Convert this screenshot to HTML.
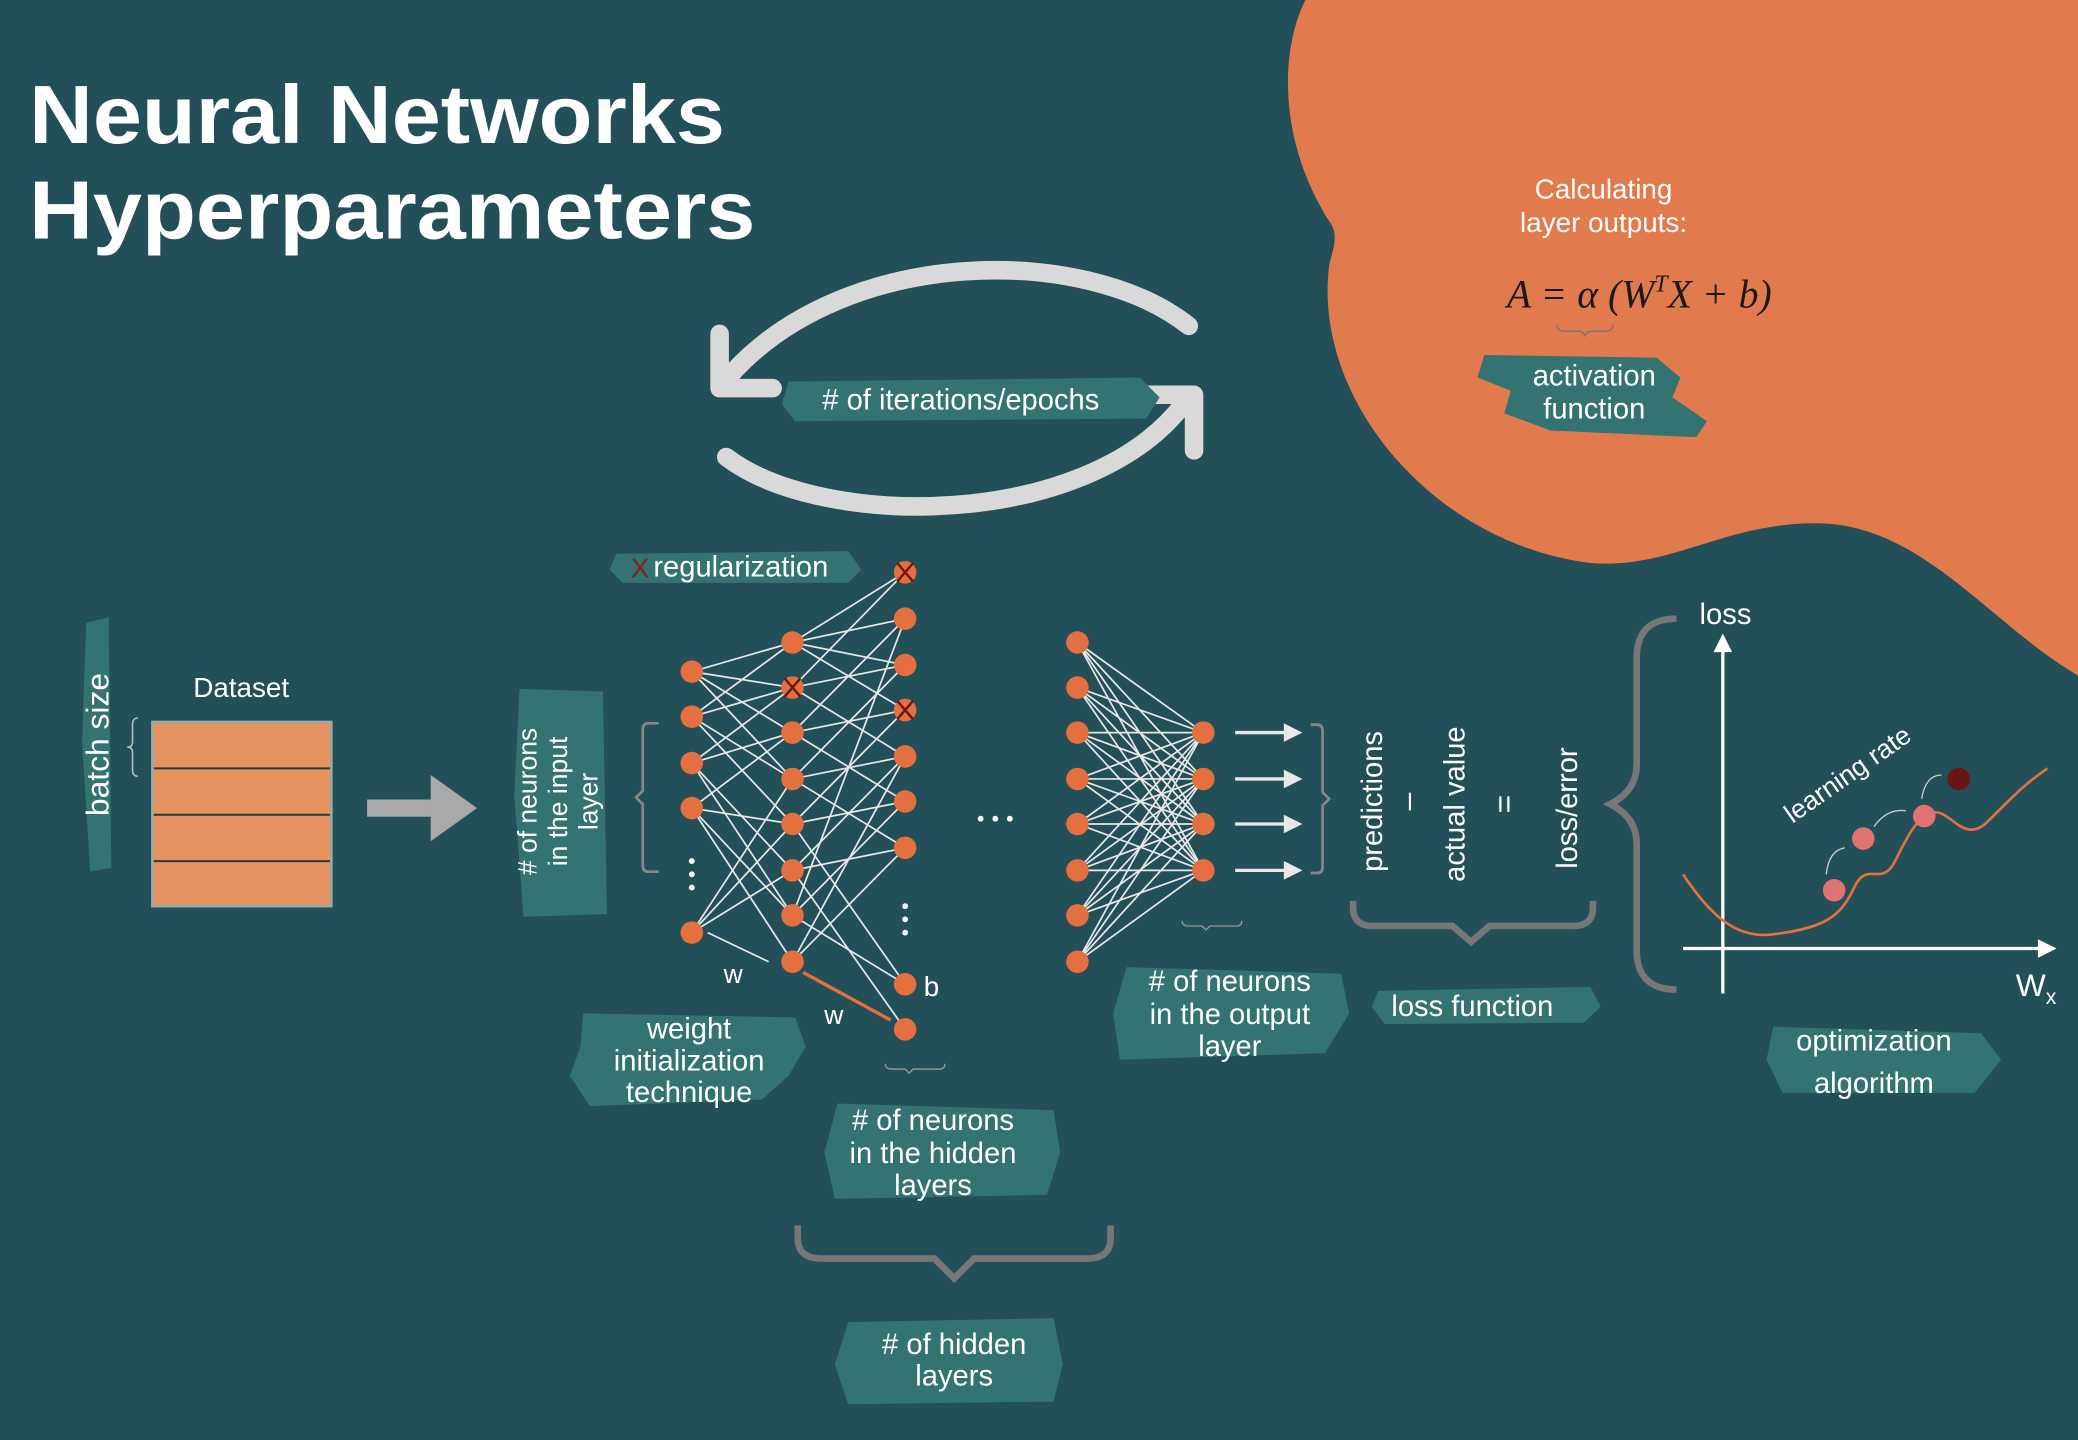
<!DOCTYPE html>
<html><head><meta charset="utf-8"><style>
html,body{margin:0;padding:0;background:#224f58;}
svg{display:block}
text{font-family:"Liberation Sans",sans-serif;fill:#fff}
</style></head><body>
<svg width="2078" height="1440" viewBox="0 0 1568 1087" preserveAspectRatio="none" xmlns="http://www.w3.org/2000/svg">
<rect width="1568" height="1087" fill="#224f58"/>
<path d="M985 0 C965 40 965 110 1005 170 C1010 180 1005 190 1003 200 C990 300 1080 410 1200 425 C1260 430 1300 395 1370 395 C1450 395 1500 470 1568 510 L1568 0 Z" fill="#e17b4e"/>
<text x="22" y="108" font-size="62" font-weight="bold" textLength="525" lengthAdjust="spacingAndGlyphs">Neural Networks</text>
<text x="22" y="180" font-size="62" font-weight="bold" textLength="548" lengthAdjust="spacingAndGlyphs">Hyperparameters</text>
<text x="1210" y="150" font-size="21" text-anchor="middle">Calculating</text>
<text x="1210" y="175" font-size="21" text-anchor="middle">layer outputs:</text>
<text x="1237" y="232" font-size="30" font-style="italic" text-anchor="middle" style="font-family:'Liberation Serif',serif;fill:#1a1a1a">A = α (W<tspan font-size="18" dy="-12">T</tspan><tspan dy="12">X + b)</tspan></text>
<path d="M1175 245 q0 5 6 5 h10 q4 0 5 4 q1 -4 5 -4 h10 q6 0 6 -5" fill="none" stroke="#777" stroke-width="1"/>
<path d="M1120 268 L1250 270 L1268 285 L1262 300 L1288 318 L1280 330 L1170 325 L1135 312 L1140 295 L1115 285 Z" fill="#337371"/>
<text x="1203" y="291" font-size="22" text-anchor="middle">activation</text>
<text x="1203" y="316" font-size="22" text-anchor="middle">function</text>
<g fill="none" stroke="#d9d9d9" stroke-width="14" stroke-linecap="round" stroke-linejoin="round">
<path d="M897 246 C820 185 640 185 552 282"/>
<path d="M543 252 L543 293 L583 293"/>
<path d="M548 345 C620 400 820 400 893 305"/>
<path d="M860 298 L901 298 L901 340"/>
</g>
<path d="M595 288 L860 285 L875 300 L865 316 L600 318 L590 305 Z" fill="#337371"/>
<text x="725" y="309" font-size="22" text-anchor="middle"># of iterations/epochs</text>
<path d="M465 418 L640 416 L650 430 L640 440 L470 440 L460 430 Z" fill="#337371"/>
<text x="476" y="436" font-size="21" style="fill:#8b1e1e">X</text>
<text x="493" y="435" font-size="22">regularization</text>
<path d="M65 470 L82 466 L84 655 L68 658 L62 560 Z" fill="#337371"/>
<text transform="translate(82,562) rotate(-90)" font-size="24" text-anchor="middle">batch size</text>
<path d="M104 542 q-4 0 -4 5 v13 q0 4 -4 4 q4 0 4 4 v13 q0 5 4 5" fill="none" stroke="#bbb" stroke-width="1.2"/>
<text x="182" y="526" font-size="21" text-anchor="middle">Dataset</text>
<rect x="115" y="545" width="135" height="139" fill="#e59461" stroke="#9aa" stroke-width="2"/>
<g stroke="#2a3b3b" stroke-width="1.5"><line x1="116" y1="580" x2="249" y2="580"/><line x1="116" y1="615" x2="249" y2="615"/><line x1="116" y1="650" x2="249" y2="650"/></g>
<line x1="277" y1="610" x2="335" y2="610" stroke="#a9a9a9" stroke-width="13"/>
<path d="M325 585 L360 610 L325 635 Z" fill="#a9a9a9"/>
<path d="M392 520 L455 522 L458 690 L395 692 L388 600 Z" fill="#337371"/>
<text transform="translate(405,605) rotate(-90)" font-size="20" text-anchor="middle"># of neurons</text>
<text transform="translate(428,605) rotate(-90)" font-size="20" text-anchor="middle">in the input</text>
<text transform="translate(451,605) rotate(-90)" font-size="20" text-anchor="middle">layer</text>
<path d="M497 546 h-8 q-4 0 -4 5 v46 l-5 5 l5 5 v46 q0 5 4 5 h8" fill="none" stroke="#888" stroke-width="2"/>
<g stroke="#e8e8e8" stroke-width="1.3">
<line x1="522" y1="507" x2="598" y2="485"/><line x1="522" y1="507" x2="598" y2="519"/><line x1="522" y1="507" x2="598" y2="553"/><line x1="522" y1="507" x2="598" y2="588"/>
<line x1="522" y1="541" x2="598" y2="485"/><line x1="522" y1="541" x2="598" y2="519"/><line x1="522" y1="541" x2="598" y2="588"/><line x1="522" y1="541" x2="598" y2="622"/>
<line x1="522" y1="576" x2="598" y2="519"/><line x1="522" y1="576" x2="598" y2="553"/><line x1="522" y1="576" x2="598" y2="657"/><line x1="522" y1="576" x2="598" y2="691"/>
<line x1="522" y1="610" x2="598" y2="553"/><line x1="522" y1="610" x2="598" y2="622"/><line x1="522" y1="610" x2="598" y2="691"/><line x1="522" y1="610" x2="598" y2="726"/>
<line x1="522" y1="704" x2="598" y2="622"/><line x1="522" y1="704" x2="598" y2="657"/><line x1="522" y1="704" x2="598" y2="588"/><line x1="534" y1="704" x2="580" y2="726"/>
<line x1="598" y1="485" x2="683" y2="432"/><line x1="598" y1="485" x2="683" y2="467"/><line x1="598" y1="485" x2="683" y2="502"/><line x1="598" y1="485" x2="683" y2="536"/>
<line x1="598" y1="519" x2="683" y2="432"/><line x1="598" y1="519" x2="683" y2="502"/><line x1="598" y1="519" x2="683" y2="571"/>
<line x1="598" y1="553" x2="683" y2="467"/><line x1="598" y1="553" x2="683" y2="536"/><line x1="598" y1="553" x2="683" y2="605"/>
<line x1="598" y1="588" x2="683" y2="502"/><line x1="598" y1="588" x2="683" y2="571"/><line x1="598" y1="588" x2="683" y2="640"/>
<line x1="598" y1="622" x2="683" y2="536"/><line x1="598" y1="622" x2="683" y2="605"/><line x1="598" y1="622" x2="683" y2="743"/>
<line x1="598" y1="657" x2="683" y2="571"/><line x1="598" y1="657" x2="683" y2="640"/><line x1="598" y1="657" x2="683" y2="777"/>
<line x1="598" y1="691" x2="683" y2="605"/><line x1="598" y1="691" x2="683" y2="743"/><line x1="598" y1="691" x2="683" y2="467"/>
<line x1="598" y1="726" x2="683" y2="640"/><line x1="598" y1="726" x2="683" y2="571"/>
</g>
<line x1="606" y1="734" x2="672" y2="770" stroke="#e5703f" stroke-width="2.5"/>
<g stroke="#e8e8e8" stroke-width="1.3">
<line x1="813" y1="485" x2="908" y2="553"/><line x1="813" y1="485" x2="908" y2="588"/><line x1="813" y1="485" x2="908" y2="622"/><line x1="813" y1="485" x2="908" y2="657"/>
<line x1="813" y1="519" x2="908" y2="553"/><line x1="813" y1="519" x2="908" y2="588"/><line x1="813" y1="519" x2="908" y2="622"/><line x1="813" y1="519" x2="908" y2="657"/>
<line x1="813" y1="553" x2="908" y2="553"/><line x1="813" y1="553" x2="908" y2="588"/><line x1="813" y1="553" x2="908" y2="622"/><line x1="813" y1="553" x2="908" y2="657"/>
<line x1="813" y1="588" x2="908" y2="553"/><line x1="813" y1="588" x2="908" y2="588"/><line x1="813" y1="588" x2="908" y2="622"/><line x1="813" y1="588" x2="908" y2="657"/>
<line x1="813" y1="622" x2="908" y2="553"/><line x1="813" y1="622" x2="908" y2="588"/><line x1="813" y1="622" x2="908" y2="622"/><line x1="813" y1="622" x2="908" y2="657"/>
<line x1="813" y1="657" x2="908" y2="553"/><line x1="813" y1="657" x2="908" y2="588"/><line x1="813" y1="657" x2="908" y2="622"/><line x1="813" y1="657" x2="908" y2="657"/>
<line x1="813" y1="691" x2="908" y2="553"/><line x1="813" y1="691" x2="908" y2="588"/><line x1="813" y1="691" x2="908" y2="622"/><line x1="813" y1="691" x2="908" y2="657"/>
<line x1="813" y1="726" x2="908" y2="553"/><line x1="813" y1="726" x2="908" y2="588"/><line x1="813" y1="726" x2="908" y2="622"/><line x1="813" y1="726" x2="908" y2="657"/>
</g>
<g fill="#e5703f">
<circle cx="522" cy="507" r="8.5"/><circle cx="522" cy="541" r="8.5"/><circle cx="522" cy="576" r="8.5"/><circle cx="522" cy="610" r="8.5"/><circle cx="522" cy="704" r="8.5"/>
<circle cx="598" cy="485" r="8.5"/><circle cx="598" cy="519" r="8.5"/><circle cx="598" cy="553" r="8.5"/><circle cx="598" cy="588" r="8.5"/><circle cx="598" cy="622" r="8.5"/><circle cx="598" cy="657" r="8.5"/><circle cx="598" cy="691" r="8.5"/><circle cx="598" cy="726" r="8.5"/>
<circle cx="683" cy="432" r="8.5"/><circle cx="683" cy="467" r="8.5"/><circle cx="683" cy="502" r="8.5"/><circle cx="683" cy="536" r="8.5"/><circle cx="683" cy="571" r="8.5"/><circle cx="683" cy="605" r="8.5"/><circle cx="683" cy="640" r="8.5"/><circle cx="683" cy="743" r="8.5"/><circle cx="683" cy="777" r="8.5"/>
<circle cx="813" cy="485" r="8.5"/><circle cx="813" cy="519" r="8.5"/><circle cx="813" cy="553" r="8.5"/><circle cx="813" cy="588" r="8.5"/><circle cx="813" cy="622" r="8.5"/><circle cx="813" cy="657" r="8.5"/><circle cx="813" cy="691" r="8.5"/><circle cx="813" cy="726" r="8.5"/>
<circle cx="908" cy="553" r="8.5"/><circle cx="908" cy="588" r="8.5"/><circle cx="908" cy="622" r="8.5"/><circle cx="908" cy="657" r="8.5"/>
</g>
<g stroke="#6b1515" stroke-width="1.8">
<line x1="592" y1="512" x2="604" y2="526"/><line x1="604" y1="512" x2="592" y2="526"/>
<line x1="677" y1="425" x2="689" y2="439"/><line x1="689" y1="425" x2="677" y2="439"/>
<line x1="677" y1="529" x2="689" y2="543"/><line x1="689" y1="529" x2="677" y2="543"/>
</g>
<g fill="#fff"><circle cx="522" cy="650" r="2.2"/><circle cx="522" cy="660" r="2.2"/><circle cx="522" cy="670" r="2.2"/>
<circle cx="683" cy="684" r="2.2"/><circle cx="683" cy="694" r="2.2"/><circle cx="683" cy="704" r="2.2"/>
<circle cx="740" cy="618" r="2.2"/><circle cx="751" cy="618" r="2.2"/><circle cx="762" cy="618" r="2.2"/></g>
<text x="546" y="742" font-size="20">w</text>
<text x="622" y="773" font-size="20">w</text>
<text x="697" y="752" font-size="21">b</text>
<g stroke="#e8e8e8" stroke-width="2.5" fill="#e8e8e8">
<line x1="932" y1="553" x2="972" y2="553"/><path d="M980 553 l-10 -5 v10 z"/>
<line x1="932" y1="588" x2="972" y2="588"/><path d="M980 588 l-10 -5 v10 z"/>
<line x1="932" y1="622" x2="972" y2="622"/><path d="M980 622 l-10 -5 v10 z"/>
<line x1="932" y1="657" x2="972" y2="657"/><path d="M980 657 l-10 -5 v10 z"/>
</g>
<path d="M989 547 h5 q4 0 4 5 v46 l5 5 l-5 5 v46 q0 5 -4 5 h-5" fill="none" stroke="#888" stroke-width="2"/>
<path d="M668 803 q0 4 5 4 h10 l3 3 l3 -3 h20 q4 0 4 -4" fill="none" stroke="#999" stroke-width="1"/>
<path d="M892 695 q0 4 5 4 h10 l3 3 l3 -3 h20 q4 0 4 -4" fill="none" stroke="#999" stroke-width="1"/>
<path d="M440 765 L600 768 L608 790 L595 812 L575 830 L445 835 L430 812 L438 790 Z" fill="#337371"/>
<text x="520" y="784" font-size="22" text-anchor="middle">weight</text>
<text x="520" y="808" font-size="22" text-anchor="middle">initialization</text>
<text x="520" y="832" font-size="22" text-anchor="middle">technique</text>
<path d="M632 833 L795 838 L800 870 L790 902 L630 905 L622 870 Z" fill="#337371"/>
<text x="704" y="853" font-size="22" text-anchor="middle"># of neurons</text>
<text x="704" y="878" font-size="22" text-anchor="middle">in the hidden</text>
<text x="704" y="902" font-size="22" text-anchor="middle">layers</text>
<path d="M850 730 L1012 735 L1018 765 L1000 795 L845 800 L840 765 Z" fill="#337371"/>
<text x="928" y="748" font-size="22" text-anchor="middle"># of neurons</text>
<text x="928" y="773" font-size="22" text-anchor="middle">in the output</text>
<text x="928" y="797" font-size="22" text-anchor="middle">layer</text>
<path d="M602 925 v10 q0 15 18 15 h85 l15 15 l15 -15 h85 q18 0 18 -15 v-10" fill="none" stroke="#777" stroke-width="5"/>
<path d="M640 998 L795 995 L802 1030 L795 1058 L640 1060 L630 1030 Z" fill="#337371"/>
<text x="720" y="1022" font-size="22" text-anchor="middle"># of hidden</text>
<text x="720" y="1046" font-size="22" text-anchor="middle">layers</text>
<text transform="translate(1043,605) rotate(-90)" font-size="22" text-anchor="middle">predictions</text>
<text transform="translate(1070,605) rotate(-90)" font-size="24" text-anchor="middle">–</text>
<text transform="translate(1105,607) rotate(-90)" font-size="22" text-anchor="middle">actual value</text>
<text transform="translate(1143,607) rotate(-90)" font-size="24" text-anchor="middle">=</text>
<text transform="translate(1190,610) rotate(-90)" font-size="22" text-anchor="middle">loss/error</text>
<path d="M1021 680 v5 q0 14 15 14 h60 l14 12 l14 -12 h63 q15 0 15 -14 v-5" fill="none" stroke="#777" stroke-width="5"/>
<path d="M1040 748 L1200 745 L1208 760 L1195 772 L1045 773 L1035 760 Z" fill="#337371"/>
<text x="1111" y="767" font-size="22" text-anchor="middle">loss function</text>
<path d="M1265 467 q-30 0 -30 30 v80 q0 20 -20 30 q20 10 20 30 v80 q0 30 30 30" fill="none" stroke="#777" stroke-width="5"/>
<g stroke="#fff" stroke-width="2.5" fill="#fff">
<line x1="1300" y1="750" x2="1300" y2="490"/><path d="M1300 481 l-5 10 h10 z"/>
<line x1="1270" y1="716" x2="1540" y2="716"/><path d="M1549 716 l-10 -5 v10 z"/>
</g>
<path d="M1270 660 C1290 690 1310 710 1340 705 C1380 700 1390 690 1400 668 C1410 650 1420 670 1430 650 C1440 630 1445 620 1455 615 C1470 605 1480 640 1500 620 C1520 600 1530 590 1545 580" fill="none" stroke="#e5703f" stroke-width="2"/>
<circle cx="1384" cy="672" r="8.5" fill="#e07272"/>
<circle cx="1406" cy="633" r="8.5" fill="#e07272"/>
<circle cx="1452" cy="616" r="8.5" fill="#e07272"/>
<circle cx="1478" cy="588" r="8.5" fill="#6b1515"/>
<g fill="none" stroke="#ccc" stroke-width="1"><path d="M1465 585 q-12 0 -15 18"/><path d="M1438 612 q-14 -2 -24 12"/><path d="M1392 640 q-12 2 -14 20"/></g>
<text x="1302" y="471" font-size="22" text-anchor="middle">loss</text>
<text x="1521" y="752" font-size="24">W<tspan font-size="16" dy="6">x</tspan></text>
<text transform="translate(1398,590) rotate(-35)" font-size="20" text-anchor="middle">learning rate</text>
<path d="M1338 775 L1495 780 L1510 800 L1490 825 L1345 825 L1333 800 Z" fill="#337371"/>
<text x="1414" y="793" font-size="22" text-anchor="middle">optimization</text>
<text x="1414" y="825" font-size="22" text-anchor="middle">algorithm</text>
</svg>
</body></html>
